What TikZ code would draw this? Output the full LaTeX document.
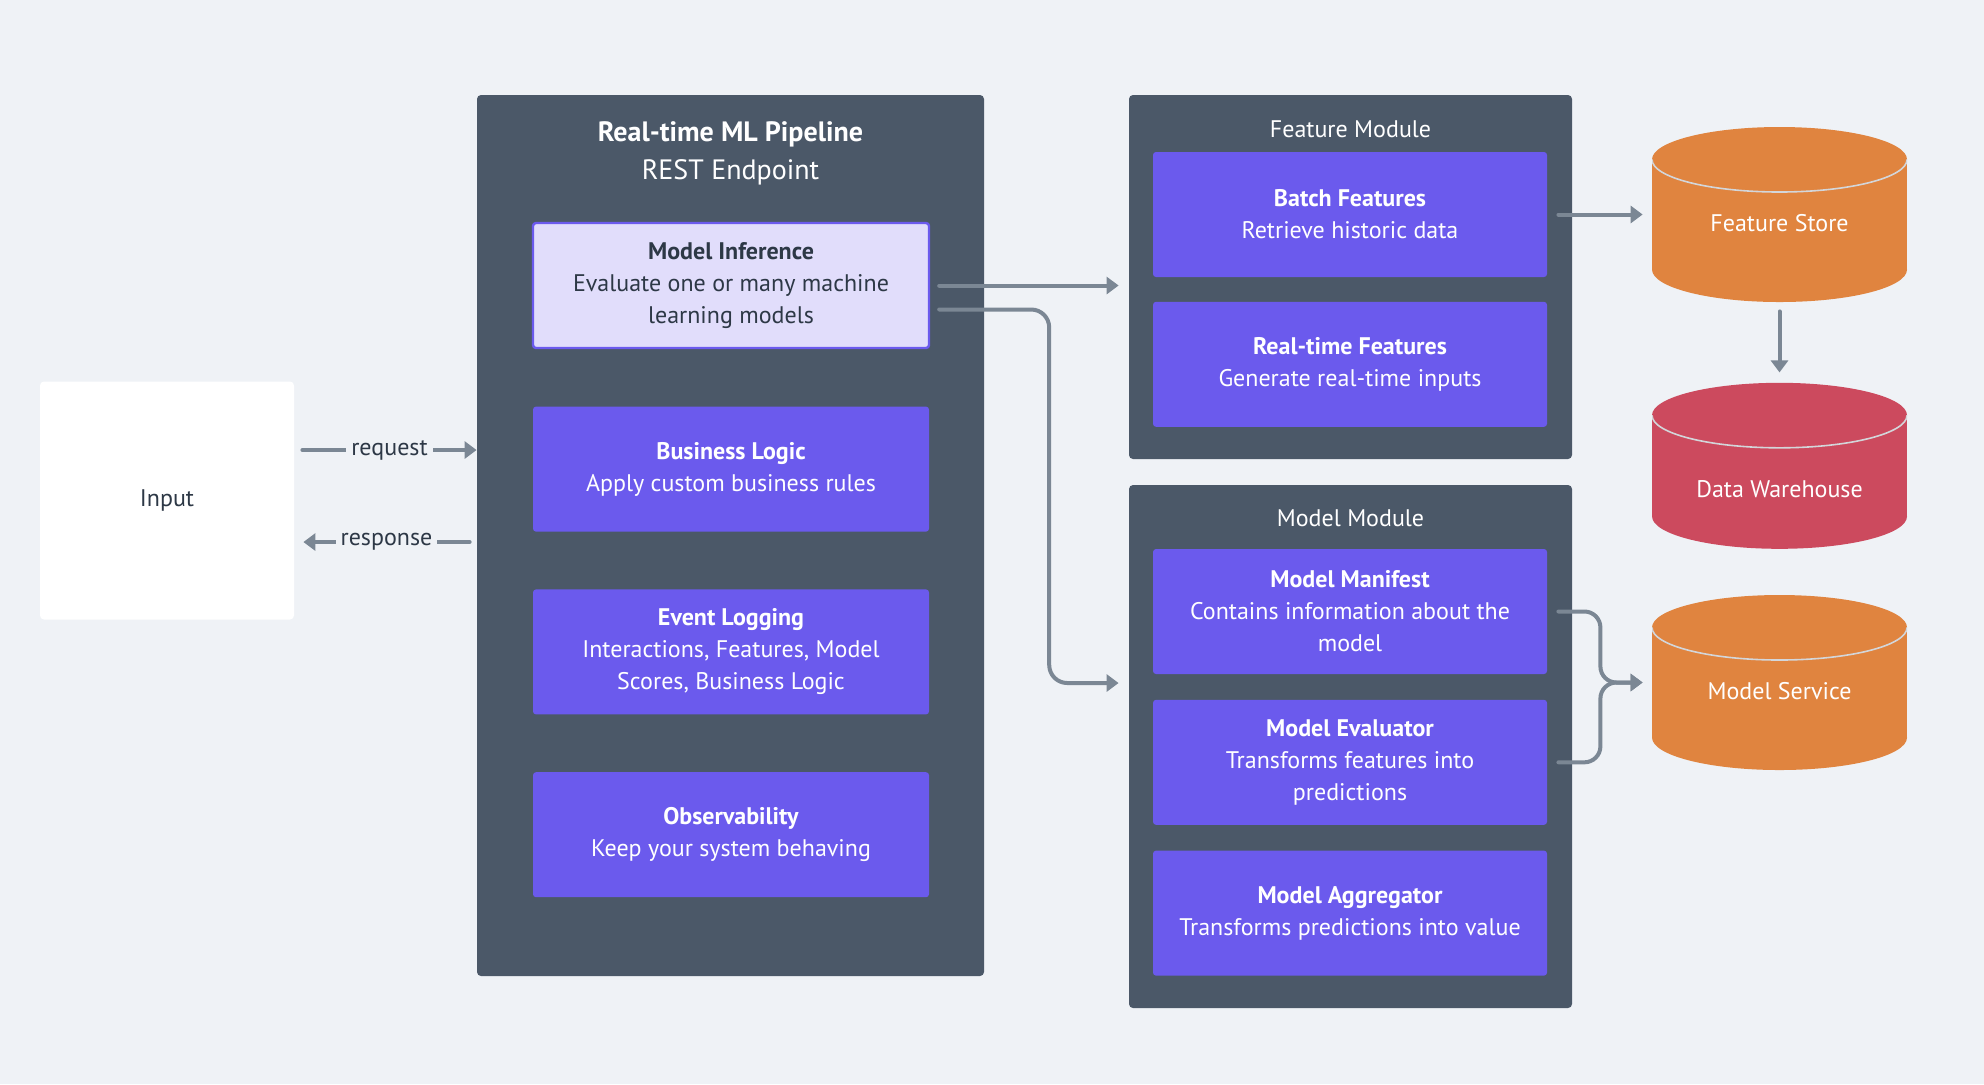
\documentclass[tikz,border=0pt]{standalone}
\usepackage{fontspec}
\setmainfont{PT Sans}
\usetikzlibrary{calc,positioning,arrows.meta}

\definecolor{bgcol}{HTML}{EFF2F6}
\definecolor{modcol}{HTML}{4B5868}
\definecolor{boxcol}{HTML}{6B5AED}
\definecolor{hicol}{HTML}{E1DDFB}
\definecolor{inkcol}{HTML}{2D3846}
\definecolor{arrcol}{HTML}{7B8794}
\definecolor{storecol}{HTML}{E0843F}
\definecolor{dwcol}{HTML}{CC4A5E}
\definecolor{capcol}{HTML}{D3D6DA}

\begin{document}
\begin{tikzpicture}[
                x=0.5pt,y=0.5pt,
                node distance=28.5pt,
                font=\fontsize{12}{16}\selectfont,
                module/.style={rectangle,fill=modcol,rounded corners=2pt,inner sep=0pt},
                card/.style={rectangle,fill=boxcol,text=white,rounded corners=1.5pt,
                    minimum width=198pt,minimum height=62.5pt,align=center,inner sep=2pt},
                hicard/.style={card,fill=hicol,draw=boxcol,line width=1.2pt,text=inkcol},
                modlabel/.style={text=white,inner sep=0pt,align=center},
                store/.style={rectangle,inner sep=0pt,text=white,
                    minimum width=127.5pt,minimum height=87.5pt,
                    path picture={
                        \fill[#1] ([yshift=-16.25pt]path picture bounding box.north west)
                            rectangle ([yshift=16.25pt]path picture bounding box.south east);
                        \fill[#1] ([yshift=-16.25pt]path picture bounding box.north)
                            ellipse [x radius=63.75pt,y radius=16.25pt];
                        \fill[#1] ([yshift=16.25pt]path picture bounding box.south)
                            ellipse [x radius=63.75pt,y radius=16.25pt];
                        \draw[capcol,line width=0.8pt] ([yshift=-16.25pt]path picture bounding box.north west)
                            arc [start angle=180,end angle=360,x radius=63.75pt,y radius=16.25pt];
                    }},
                arr/.style={draw=arrcol,line width=2pt,line cap=round,-{Triangle[length=6pt,width=8.5pt]}},
                tag/.style={fill=bgcol,text=inkcol,inner xsep=2.5pt,inner ysep=1pt}
            ]
                \fill[bgcol] (0,0) rectangle (1984,-1084);
                \useasboundingbox (0,0) rectangle (1984,-1084);

                % input and pipeline
                \node (input) [fill=white,rounded corners=2pt,minimum width=127pt,minimum height=119pt,text=inkcol] at (167,-500.5) {Input};
                \node (pipe) [module,minimum width=253.5pt,minimum height=440.5pt] at (730.5,-535.5) {};
                \node (ptitle) [modlabel,below=13.5pt of pipe.north,font=\fontsize{14}{19}\selectfont] {\textbf{Real-time ML Pipeline}\\REST Endpoint};
                \node (infer) [hicard] at (731,-285.5) {\textbf{Model Inference}\\Evaluate one or many machine\\learning models};
                \node (logic) [card,below=of infer] {\textbf{Business Logic}\\Apply custom business rules};
                \node (logging) [card,below=of logic] {\textbf{Event Logging}\\Interactions, Features, Model\\Scores, Business Logic};
                \node (observ) [card,below=of logging] {\textbf{Observability}\\Keep your system behaving};

                % feature module
                \node (featmod) [module,minimum width=221.5pt,minimum height=182pt] at (1350.5,-277) {};
                \node (featlbl) [modlabel,below=13pt of featmod.north] {Feature Module};
                \node (batch) [card,minimum width=197pt] at (1350,-214.5) {\textbf{Batch Features}\\Retrieve historic data};
                \node (realtime) [card,minimum width=197pt,below=12pt of batch] {\textbf{Real-time Features}\\Generate real-time inputs};

                % model module
                \node (modmod) [module,minimum width=221.5pt,minimum height=261.5pt] at (1350.5,-746.5) {};
                \node (modlbl) [modlabel,below=12.5pt of modmod.north] {Model Module};
                \node (manifest) [card,minimum width=197pt] at (1350,-611.5) {\textbf{Model Manifest}\\Contains information about the\\model};
                \node (evaluator) [card,minimum width=197pt,below=12.5pt of manifest] {\textbf{Model Evaluator}\\Transforms features into\\predictions};
                \node (aggregator) [card,minimum width=197pt,below=12.5pt of evaluator] {\textbf{Model Aggregator}\\Transforms predictions into value};

                % stores
                \node (fs) [store=storecol,text height=20pt,text depth=3pt] at (1779.5,-214.5) {Feature Store};
                \node (dw) [store=dwcol,minimum height=83pt,text height=35pt,text depth=3pt,below=40pt of fs] {Data Warehouse};
                \node (ms) [store=storecol,text height=20pt,text depth=3pt] at (1779.5,-682.5) {Model Service};

                % connectors
                \draw[arr] ($(input.east)+(4pt,25.25pt)$) -- node[tag]{request} ($(input.east -| pipe.west)+(0,25.25pt)$);
                \draw[arr] ($(input.east -| pipe.west)+(-3.5pt,-20.75pt)$) -- node[tag]{response} ($(input.east)+(4.5pt,-20.75pt)$);
                \draw[arr] ($(infer.east)+(4.5pt,0)$) -- ($(infer.east -| featmod.west)+(-5pt,0)$);
                \draw[arr,rounded corners=9pt] ($(infer.east)+(4.5pt,-12pt)$) -- ++(55pt,0) |- ($(modmod.west)+(-5pt,31.75pt)$);
                \draw[arr] ($(batch.east)+(5.5pt,0)$) -- ($(batch.east -| fs.west)+(-4.5pt,0)$);
                \draw[arr] ($(fs.south)+(0,-4.5pt)$) -- ($(dw.north)+(0,5pt)$);
                \draw[arr,rounded corners=8pt] ($(manifest.east)+(5.5pt,0)$) -- ++(21pt,0) |- ($(ms.west)+(-4.5pt,0)$);
                \draw[arr,rounded corners=8pt] ($(evaluator.east)+(5.5pt,0)$) -- ++(21pt,0) |- ($(ms.west)+(-4.5pt,0)$);
            \end{tikzpicture}
\end{document}
